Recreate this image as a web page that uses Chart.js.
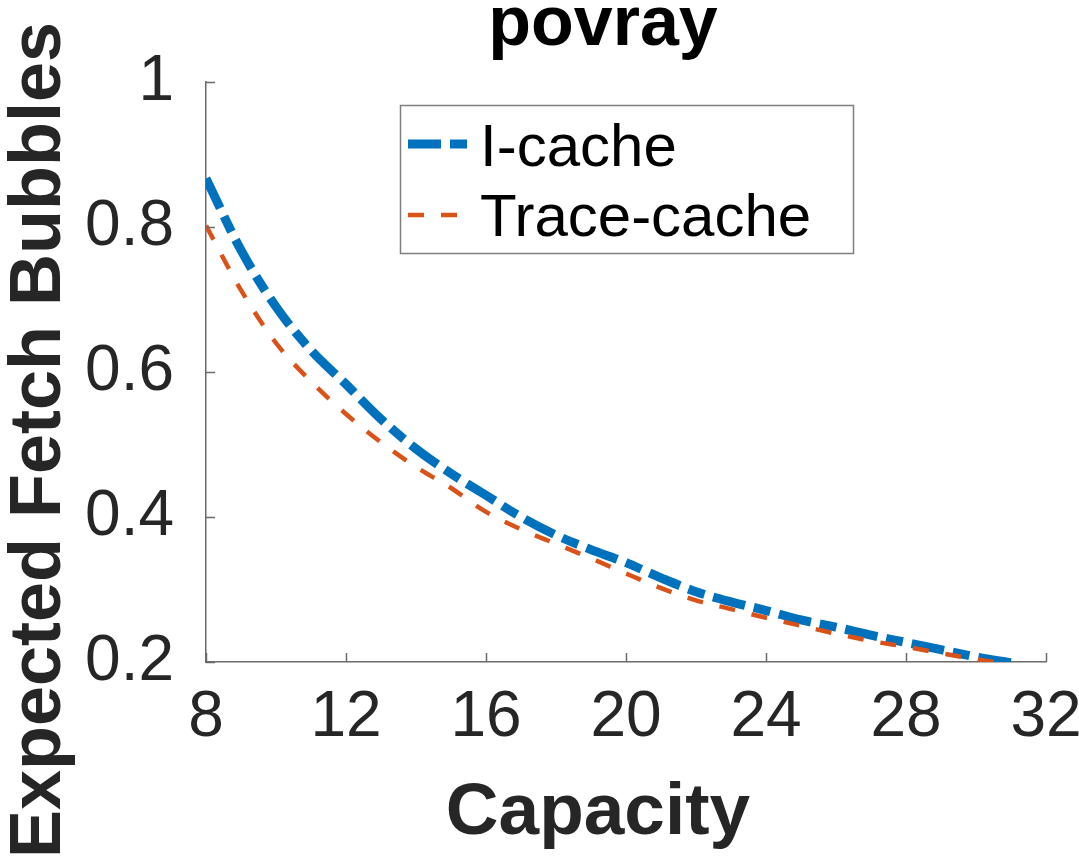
<!DOCTYPE html>
<html>
<head>
<meta charset="utf-8">
<script src="https://cdn.jsdelivr.net/npm/chart.js@4/dist/chart.umd.min.js"></script>
<style>
html,body{margin:0;padding:0;background:#ffffff;}
#wrap{width:1079px;height:868px;}
</style>
</head>
<body>
<div id="wrap"><canvas id="c" width="1079" height="868"></canvas></div>
<script>
const capacity   = [8, 9, 10, 11, 12, 13, 14, 15, 16, 17, 18, 19, 20, 21, 22, 23, 24, 25, 26, 27, 28, 29, 30, 31];
const icache     = [0.867, 0.768, 0.690, 0.630, 0.583, 0.535, 0.494, 0.460, 0.430, 0.400, 0.375, 0.355, 0.337, 0.316, 0.297, 0.283, 0.271, 0.258, 0.248, 0.237, 0.227, 0.217, 0.207, 0.199];
const traceCache = [0.802, 0.713, 0.640, 0.587, 0.542, 0.503, 0.469, 0.440, 0.407, 0.383, 0.363, 0.343, 0.322, 0.302, 0.285, 0.273, 0.261, 0.250, 0.239, 0.229, 0.221, 0.212, 0.204, 0.196];
const seriesNames = ['I-cache', 'Trace-cache'];
const xTickLabels = ['8', '12', '16', '20', '24', '28', '32'];
const yTickLabels = ['0.2', '0.4', '0.6', '0.8', '1'];
const chartTitle = 'povray';
const xTitle = 'Capacity';
const yTitle = 'Expected Fetch Bubbles';

const FONT = "'Liberation Sans', Arial, Helvetica, sans-serif";
const AXIS_COLOR = '#6b6b6b';
const TEXT_COLOR = '#262626';

const toPts = (xs, ys) => xs.map((x, i) => ({x: x, y: ys[i]}));

const decor = {
  id: 'decor',
  afterDraw(chart) {
    const ctx = chart.ctx;
    const xs = chart.scales.x, ys = chart.scales.y;
    const area = chart.chartArea;
    ctx.save();
    // inward ticks
    ctx.strokeStyle = AXIS_COLOR;
    ctx.lineWidth = 1.5;
    ctx.beginPath();
    xs.ticks.forEach(t => {
      const px = Math.round(xs.getPixelForValue(t.value)) + 0.5;
      ctx.moveTo(px, area.bottom);
      ctx.lineTo(px, area.bottom - 9);
    });
    ys.ticks.forEach(t => {
      const py = Math.round(ys.getPixelForValue(t.value)) + 0.5;
      ctx.moveTo(area.left, py);
      ctx.lineTo(area.left + 9, py);
    });
    ctx.stroke();

    // title
    ctx.fillStyle = '#000000';
    ctx.font = 'bold 70px ' + FONT;
    ctx.textAlign = 'center';
    ctx.textBaseline = 'alphabetic';
    ctx.fillText(chartTitle, 603, 45);

    // x title
    ctx.fillStyle = TEXT_COLOR;
    ctx.font = 'bold 73px ' + FONT;
    ctx.fillText(xTitle, 598, 834);

    // y title
    ctx.save();
    ctx.translate(60, 440);
    ctx.rotate(-Math.PI / 2);
    ctx.font = 'bold 72px ' + FONT;
    ctx.fillText(yTitle, 0, 0);
    ctx.restore();

    // legend
    const bx = 400, by = 105, bw = 453, bh = 148;
    ctx.fillStyle = '#ffffff';
    ctx.fillRect(bx, by, bw, bh);
    ctx.strokeStyle = '#7f7f7f';
    ctx.lineWidth = 1.5;
    ctx.strokeRect(bx + 0.5, by + 0.5, bw, bh);
    const rows = [144, 215];
    const textBase = [166, 236];
    chart.data.datasets.forEach((ds, i) => {
      ctx.save();
      ctx.strokeStyle = ds.borderColor;
      ctx.lineWidth = ds.borderWidth;
      ctx.lineCap = 'butt';
      ctx.setLineDash(ds.borderDash);
      ctx.beginPath();
      ctx.moveTo(408, rows[i]);
      ctx.lineTo(468, rows[i]);
      ctx.stroke();
      ctx.restore();
      ctx.fillStyle = '#000000';
      ctx.font = '60px ' + FONT;
      ctx.textAlign = 'left';
      ctx.textBaseline = 'alphabetic';
      ctx.fillText(ds.label, 480, textBase[i]);
    });
    ctx.restore();
  }
};

new Chart(document.getElementById('c'), {
  type: 'line',
  data: {
    datasets: [
      {
        label: seriesNames[0],
        data: toPts(capacity, icache),
        borderColor: '#0072BD',
        borderWidth: 9,
        borderDash: [33, 9, 17, 9],
        borderCapStyle: 'butt',
        pointRadius: 0,
        fill: false,
        cubicInterpolationMode: 'monotone',
        order: 1
      },
      {
        label: seriesNames[1],
        data: toPts(capacity, traceCache),
        borderColor: '#D95319',
        borderWidth: 4.5,
        borderDash: [16, 17],
        borderCapStyle: 'butt',
        pointRadius: 0,
        fill: false,
        cubicInterpolationMode: 'monotone',
        order: 0
      }
    ]
  },
  options: {
    responsive: false,
    devicePixelRatio: 1,
    animation: false,
    layout: { padding: { top: 82, right: 33, left: 0, bottom: 0 } },
    plugins: {
      legend: { display: false },
      title: { display: false },
      tooltip: { enabled: false }
    },
    scales: {
      x: {
        type: 'linear',
        min: 8,
        max: 32,
        grid: { display: false, drawTicks: false },
        border: { display: true, color: AXIS_COLOR, width: 1.5 },
        ticks: {
          stepSize: 4,
          autoSkip: false,
          maxRotation: 0,
          padding: 18,
          color: TEXT_COLOR,
          font: { family: FONT, size: 64 },
          callback: (v, i) => xTickLabels[i]
        },
        afterFit: s => { s.height = 206; s.paddingLeft = 0; s.paddingRight = 0; }
      },
      y: {
        type: 'linear',
        min: 0.2,
        max: 1,
        grid: { display: false, drawTicks: false },
        border: { display: true, color: AXIS_COLOR, width: 1.5 },
        ticks: {
          stepSize: 0.2,
          autoSkip: false,
          padding: 32,
          color: TEXT_COLOR,
          font: { family: FONT, size: 64 },
          callback: (v, i) => yTickLabels[i]
        },
        afterFit: s => { s.width = 206; s.paddingTop = 0; s.paddingBottom = 0; }
      }
    }
  },
  plugins: [decor]
});
</script>
</body>
</html>
